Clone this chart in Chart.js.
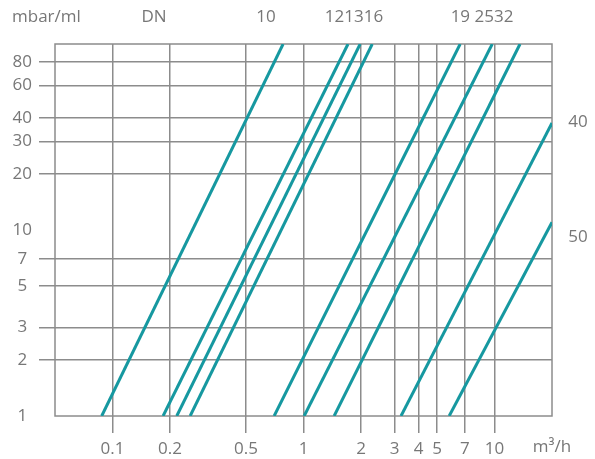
<!DOCTYPE html>
<html>
<head>
<meta charset="utf-8">
<script src="https://cdn.jsdelivr.net/npm/chart.js@4"></script>
<style>
  body { margin: 0; background: #fff; }
</style>
</head>
<body>
<canvas id="dnChart" width="595" height="459"></canvas>
<script>
// pressure drop lines per DN size, each drawn between two read points
const dnSizes = ['10', '12', '13', '16', '19', '25', '32', '40', '50'];
const startFlow = [0.0878, 0.184, 0.217, 0.255, 0.702, 1.008, 1.447, 3.24, 5.79];
const startDrop = [1, 1, 1, 1, 1, 1, 1, 1, 1];
const endFlow = [0.782, 1.71, 1.98, 2.29, 6.61, 9.73, 13.6, 20, 20];
const endDrop = [100, 100, 100, 100, 100, 100, 100, 37.6, 11.0];

const xTicks = [0.1, 0.2, 0.5, 1, 2, 3, 4, 5, 7, 10];
const xTickLabels = ['0.1', '0.2', '0.5', '1', '2', '3', '4', '5', '7', '10'];
const yTicks = [1, 2, 3, 5, 7, 10, 20, 30, 40, 60, 80];
const yTickLabels = ['1', '2', '3', '5', '7', '10', '20', '30', '40', '60', '80'];

const gridGray = '#8c8c8c';
const textGray = '#777777';
const teal = '#1698a0';
const font = { family: 'Open Sans', size: 17 };

const datasets = dnSizes.map((dn, i) => ({
  label: 'DN ' + dn,
  data: [{ x: startFlow[i], y: startDrop[i] }, { x: endFlow[i], y: endDrop[i] }],
  borderColor: teal,
  borderWidth: 3,
  pointRadius: 0,
  showLine: true,
  fill: false
}));

// frame and extra labels
const extras = {
  id: 'extras',
  beforeDatasetsDraw(chart) {
    const a = chart.chartArea;
    const ctx = chart.ctx;
    ctx.save();
    ctx.strokeStyle = gridGray;
    ctx.lineWidth = 1.5;
    ctx.strokeRect(a.left, a.top, a.right - a.left, a.bottom - a.top);
    ctx.restore();
  },
  afterDraw(chart) {
    const ctx = chart.ctx;
    ctx.save();
    ctx.fillStyle = textGray;
    ctx.font = '17px "Open Sans"';
    ctx.textBaseline = 'middle';
    ctx.textAlign = 'left';
    ctx.fillText('mbar/ml', 12, 17);
    ctx.textAlign = 'center';
    ctx.fillText('DN', 154, 17);
    ctx.fillText(dnSizes[0], 266, 17);
    ctx.fillText(dnSizes[1] + dnSizes[2] + dnSizes[3], 354, 17);
    ctx.fillText(dnSizes[4] + ' ' + dnSizes[5] + dnSizes[6], 482, 17);
    ctx.fillText(dnSizes[7], 578, 122);
    ctx.fillText(dnSizes[8], 578, 237);
    ctx.fillText('m³/h', 552, 447);
    ctx.restore();
  }
};

const config = {
  type: 'scatter',
  data: { datasets: datasets },
  options: {
    responsive: false,
    animation: false,
    layout: { padding: { top: 44, right: 43, left: 0, bottom: 0 } },
    plugins: { legend: { display: false }, tooltip: { enabled: false } },
    scales: {
      x: {
        type: 'logarithmic',
        min: 0.05,
        max: 20,
        afterBuildTicks: s => { s.ticks = xTicks.map(v => ({ value: v })); },
        afterFit: s => { s.height = 43; },
        border: { display: false },
        grid: { color: gridGray, lineWidth: 1.5, tickLength: 17 },
        ticks: {
          autoSkip: false,
          maxRotation: 0,
          padding: 6,
          color: textGray,
          font: font,
          callback: (v, i) => xTickLabels[i]
        }
      },
      y: {
        type: 'logarithmic',
        min: 1,
        max: 100,
        afterBuildTicks: s => { s.ticks = yTicks.map(v => ({ value: v })); },
        afterFit: s => { s.width = 55; },
        border: { display: false },
        grid: {
          color: c => (c.tick && (c.tick.value === 10 || c.tick.value === 1)) ? 'rgba(0,0,0,0)' : gridGray,
          lineWidth: 1.5,
          tickLength: 16
        },
        ticks: {
          autoSkip: false,
          padding: 7,
          color: textGray,
          font: font,
          crossAlign: 'center',
          callback: (v, i) => yTickLabels[i]
        }
      }
    }
  },
  plugins: [extras]
};

const dnChart = new Chart(document.getElementById('dnChart'), config);
</script>
</body>
</html>
